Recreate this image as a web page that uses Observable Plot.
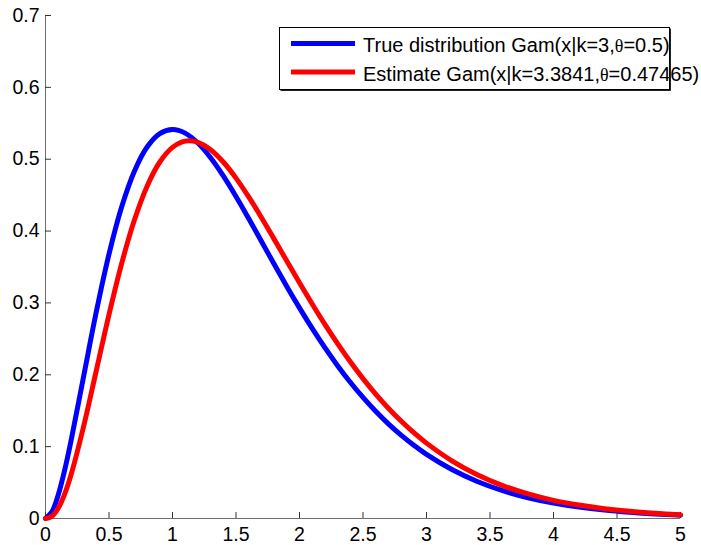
<!DOCTYPE html>
<html><head><meta charset="utf-8">
<script src="https://cdn.jsdelivr.net/npm/d3@7"></script>
<script src="https://cdn.jsdelivr.net/npm/@observablehq/plot@0.6"></script>
<style>body{margin:0;background:#fff}</style>
</head><body><div id="chart"></div>
<script>
// x positions at which the curves were read
const xValues = [0, 0.05, 0.1, 0.15, 0.2, 0.3, 0.4, 0.5, 0.6, 0.7, 0.8, 0.9, 1.0, 1.1, 1.2, 1.3, 1.4, 1.5, 1.6, 1.7, 1.8, 1.9, 2.0,
  2.1, 2.2, 2.3, 2.4, 2.5, 2.6, 2.7, 2.8, 2.9, 3.0, 3.2, 3.4, 3.6, 3.8, 4.0, 4.2, 4.4, 4.6, 4.8, 5.0];
// blue curve: true distribution
const trueValues = [0, 0.0091, 0.0328, 0.0667, 0.1073, 0.1976, 0.2876, 0.3679, 0.4337, 0.4833, 0.5169, 0.5356, 0.5413, 0.5363, 0.5225, 0.5021, 0.4768, 0.4481, 0.4174, 0.3858, 0.3541, 0.3230, 0.2931,
  0.2645, 0.2377, 0.2127, 0.1896, 0.1685, 0.1492, 0.1317, 0.1160, 0.1019, 0.0892, 0.0681, 0.0515, 0.0387, 0.0289, 0.0215, 0.0159, 0.0117, 0.0086, 0.0062, 0.0045];
// red curve: estimate
const estimateValues = [0, 0.0030, 0.0142, 0.0336, 0.0601, 0.1280, 0.2058, 0.2838, 0.3550, 0.4153, 0.4625, 0.4961, 0.5165, 0.5252, 0.5235, 0.5132, 0.4961, 0.4737, 0.4475, 0.4189, 0.3888, 0.3583, 0.3280,
  0.2985, 0.2701, 0.2433, 0.2181, 0.1947, 0.1732, 0.1535, 0.1356, 0.1194, 0.1049, 0.0803, 0.0609, 0.0458, 0.0342, 0.0253, 0.0187, 0.0137, 0.0100, 0.0073, 0.0052];

const seriesNames = ["True distribution Gam(x|k=3,θ=0.5)", "Estimate Gam(x|k=3.3841,θ=0.47465)"];
const seriesColors = ["#0000ff", "#ff0000"];
const xTicks = [0, 0.5, 1, 1.5, 2, 2.5, 3, 3.5, 4, 4.5, 5];
const xTickLabels = ["0", "0.5", "1", "1.5", "2", "2.5", "3", "3.5", "4", "4.5", "5"];
const yTicks = [0, 0.1, 0.2, 0.3, 0.4, 0.5, 0.6, 0.7];
const yTickLabels = ["0", "0.1", "0.2", "0.3", "0.4", "0.5", "0.6", "0.7"];

const trueRows = xValues.map((x, i) => ({x, y: trueValues[i]}));
const estRows = xValues.map((x, i) => ({x, y: estimateValues[i]}));

const FONT = "'Liberation Sans', Arial, Helvetica, sans-serif";

const chart = Plot.plot({
  width: 701, height: 545,
  marginLeft: 45, marginRight: 21, marginTop: 15, marginBottom: 27,
  style: {fontFamily: FONT, fontSize: "19.5px", background: "white", color: "black", overflow: "visible"},
  x: {domain: [0, 5]},
  y: {domain: [0, 0.7]},
  marks: [
    Plot.ruleX([0], {stroke: "#6e6e6e"}),
    Plot.ruleY([0], {stroke: "#6e6e6e"}),
    Plot.axisX(xTicks, {tickSize: -6, tickPadding: 15, stroke: "#333", fill: "black",
      tickFormat: d => xTickLabels[xTicks.indexOf(d)], label: null}),
    Plot.axisY(yTicks, {tickSize: -6, tickPadding: 12, stroke: "#333", fill: "black",
      tickFormat: d => yTickLabels[yTicks.indexOf(d)], label: null}),
    Plot.line(trueRows, {x: "x", y: "y", stroke: seriesColors[0], strokeWidth: 5, curve: "catmull-rom"}),
    Plot.line(estRows, {x: "x", y: "y", stroke: seriesColors[1], strokeWidth: 5, curve: "catmull-rom"})
  ]
});
document.getElementById("chart").appendChild(chart);

// Legend (MATLAB style box, top right)
const svg = d3.select(chart);
const lg = svg.append("g").attr("font-family", FONT).attr("font-size", 20).attr("text-anchor", "start");
lg.append("rect").attr("x", 279.5).attr("y", 27.5).attr("width", 390).attr("height", 62)
  .attr("fill", "white").attr("stroke", "black").attr("stroke-width", 1);
lg.append("path").attr("d", "M280.5,90.5H670.5V28.5").attr("fill", "none").attr("stroke", "#222").attr("stroke-width", 1);
seriesNames.forEach((name, i) => {
  const cy = 43.5 + i * 28.5;
  lg.append("line").attr("x1", 291).attr("x2", 355).attr("y1", cy).attr("y2", cy)
    .attr("stroke", seriesColors[i]).attr("stroke-width", 5);
  const t = lg.append("text").attr("x", 363).attr("y", cy + 8.5).attr("fill", "black").attr("text-anchor", "start");
  const parts = name.split("θ");
  t.append("tspan").text(parts[0]);
  t.append("tspan").attr("font-family", "'Liberation Serif', 'Times New Roman', serif").attr("font-size", 18).text("θ");
  t.append("tspan").attr("font-family", FONT).attr("font-size", 20).text(parts[1]);
});
</script>
</body></html>
